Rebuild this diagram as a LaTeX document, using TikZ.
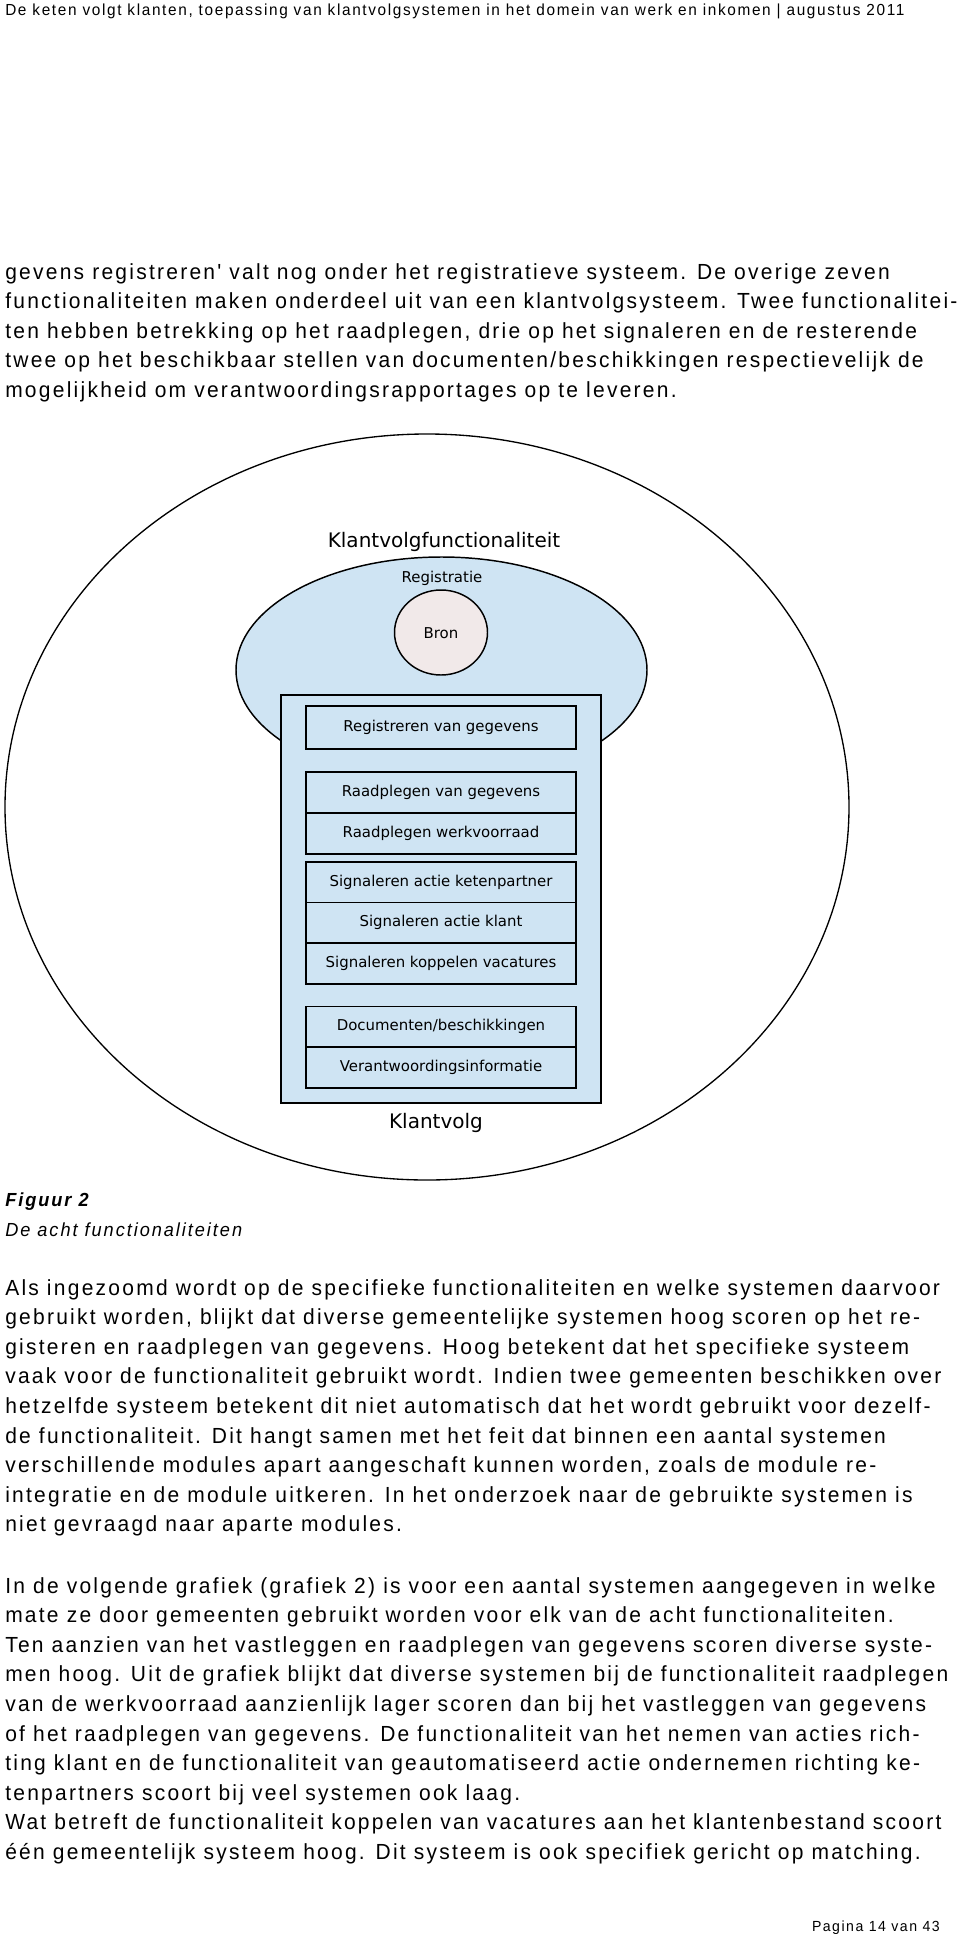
\documentclass[tikz,border=0pt]{standalone}
\usepackage{fontspec}
\setmainfont{Liberation Sans}
\newfontfamily\bodyfont{Liberation Sans}[FakeStretch=0.96,LetterSpace=10.3]
\newfontfamily\diagfont{DejaVu Sans}
\definecolor{klantblauw}{RGB}{207,228,243}
\definecolor{bronroze}{RGB}{241,233,233}
\begin{document}
\begin{tikzpicture}[x=0.75pt,y=0.75pt,yscale=-1,xscale=1,
  regel/.style={anchor=base west,inner sep=0pt,font={\bodyfont\fontsize{16.4}{19}\selectfont}},
  kopregel/.style={anchor=base west,inner sep=0pt,font={\bodyfont\fontsize{12}{14}\selectfont}},
  bijschrift/.style={anchor=base west,inner sep=0pt,font={\bodyfont\fontsize{14.2}{16}\selectfont\itshape}},
  funcbox/.style={draw,line width=1.4pt,fill=klantblauw,minimum width=202.5pt,minimum height=30.75pt,inner sep=0pt,text height=0.75em,text depth=0.22em,font={\diagfont\fontsize{11.2}{13}\selectfont}},
  diaglabel/.style={anchor=base,inner sep=0pt,font={\diagfont\fontsize{11.2}{13}\selectfont}},
  diagtitel/.style={anchor=base,inner sep=0pt,font={\diagfont\fontsize{15}{18}\selectfont}}]
\fill[white] (0,0) rectangle (960,1934);
\useasboundingbox (0,0) rectangle (960,1934);

% Text Node
\draw (5,15.5) node [kopregel] (kop) {De keten volgt klanten, toepassing van klantvolgsystemen in het domein van werk en inkomen | augustus 2011};

% Text Node
\draw (5,279) node [regel] (pa1) {gevens registreren' valt nog onder het registratieve systeem. De overige zeven};
\draw (5,308.6) node [regel] (pa2) {functionaliteiten maken onderdeel uit van een klantvolgsysteem. Twee functionalitei-};
\draw (5,338.2) node [regel] (pa3) {ten hebben betrekking op het raadplegen, drie op het signaleren en de resterende};
\draw (5,367.8) node [regel] (pa4) {twee op het beschikbaar stellen van documenten/beschikkingen respectievelijk de};
\draw (5,397.4) node [regel] (pa5) {mogelijkheid om verantwoordingsrapportages op te leveren.};

%Shape: Ellipse [id:klantvolgfunctionaliteit]
\draw [line width=1pt] (427,807) ellipse (422 and 373);
%Shape: Ellipse [id:registratie]
\draw [line width=1.1pt,fill=klantblauw] (441.5,670) ellipse (205.5 and 113);
%Shape: Ellipse [id:bron]
\draw [line width=1.1pt,fill=bronroze] (441,632.5) ellipse (46.5 and 42.5);
%Shape: Rectangle [id:klantvolg]
\draw [line width=1.4pt,fill=klantblauw] (281,695) -- (601,695) -- (601,1103) -- (281,1103) -- cycle;

% Text Node
\draw (444,547) node [diagtitel] (titel) {Klantvolgfunctionaliteit};
\draw (442,582) node [diaglabel] (registratie) {Registratie};
\draw (441,638) node [diaglabel] (bron) {Bron};
\draw (436,1128) node [diagtitel] (klantvolg) {Klantvolg};

% Functionaliteiten
\node [funcbox,minimum height=32.25pt] (registreren) at (441,727.5) {Registreren van gegevens};
\node [funcbox] (raadplegen) at (441,792.5) {Raadplegen van gegevens};
\node [funcbox] (werkvoorraad) at (441,833.5) {Raadplegen werkvoorraad};
\node [funcbox] (ketenpartner) at (441,882.5) {Signaleren actie ketenpartner};
\node [funcbox] (klant) at (441,923) {Signaleren actie klant};
\node [funcbox] (vacatures) at (441,963.5) {Signaleren koppelen vacatures};
\node [funcbox] (documenten) at (441,1027) {Documenten/beschikkingen};
\node [funcbox] (verantwoording) at (441,1067.5) {Verantwoordingsinformatie};

% Text Node
\draw (5,1206) node [bijschrift,font={\bodyfont\fontsize{14.2}{16}\selectfont\bfseries\itshape}] (figuur) {Figuur 2};
\draw (5,1236) node [bijschrift] (onderschrift) {De acht functionaliteiten};

% Text Node
\draw (5,1295) node [regel] (pb1) {Als ingezoomd wordt op de specifieke functionaliteiten en welke systemen daarvoor};
\draw (5,1324.6) node [regel] (pb2) {gebruikt worden, blijkt dat diverse gemeentelijke systemen hoog scoren op het re-};
\draw (5,1354.2) node [regel] (pb3) {gisteren en raadplegen van gegevens. Hoog betekent dat het specifieke systeem};
\draw (5,1383.8) node [regel] (pb4) {vaak voor de functionaliteit gebruikt wordt. Indien twee gemeenten beschikken over};
\draw (5,1413.4) node [regel] (pb5) {hetzelfde systeem betekent dit niet automatisch dat het wordt gebruikt voor dezelf-};
\draw (5,1443) node [regel] (pb6) {de functionaliteit. Dit hangt samen met het feit dat binnen een aantal systemen};
\draw (5,1472.6) node [regel] (pb7) {verschillende modules apart aangeschaft kunnen worden, zoals de module re-};
\draw (5,1502.2) node [regel] (pb8) {integratie en de module uitkeren. In het onderzoek naar de gebruikte systemen is};
\draw (5,1531.8) node [regel] (pb9) {niet gevraagd naar aparte modules.};

% Text Node
\draw (5,1593) node [regel] (pc1) {In de volgende grafiek (grafiek 2) is voor een aantal systemen aangegeven in welke};
\draw (5,1622.6) node [regel] (pc2) {mate ze door gemeenten gebruikt worden voor elk van de acht functionaliteiten.};
\draw (5,1652.2) node [regel] (pc3) {Ten aanzien van het vastleggen en raadplegen van gegevens scoren diverse syste-};
\draw (5,1681.8) node [regel] (pc4) {men hoog. Uit de grafiek blijkt dat diverse systemen bij de functionaliteit raadplegen};
\draw (5,1711.4) node [regel] (pc5) {van de werkvoorraad aanzienlijk lager scoren dan bij het vastleggen van gegevens};
\draw (5,1741) node [regel] (pc6) {of het raadplegen van gegevens. De functionaliteit van het nemen van acties rich-};
\draw (5,1770.6) node [regel] (pc7) {ting klant en de functionaliteit van geautomatiseerd actie ondernemen richting ke-};
\draw (5,1800.2) node [regel] (pc8) {tenpartners scoort bij veel systemen ook laag.};
\draw (5,1829.8) node [regel] (pc9) {Wat betreft de functionaliteit koppelen van vacatures aan het klantenbestand scoort};
\draw (5,1859.4) node [regel] (pc10) {één gemeentelijk systeem hoog. Dit systeem is ook specifiek gericht op matching.};

% Text Node
\draw (940,1931) node [kopregel,anchor=base east,font={\bodyfont\fontsize{11}{14}\selectfont}] (pagina) {Pagina 14 van 43};

\end{tikzpicture}
\end{document}
